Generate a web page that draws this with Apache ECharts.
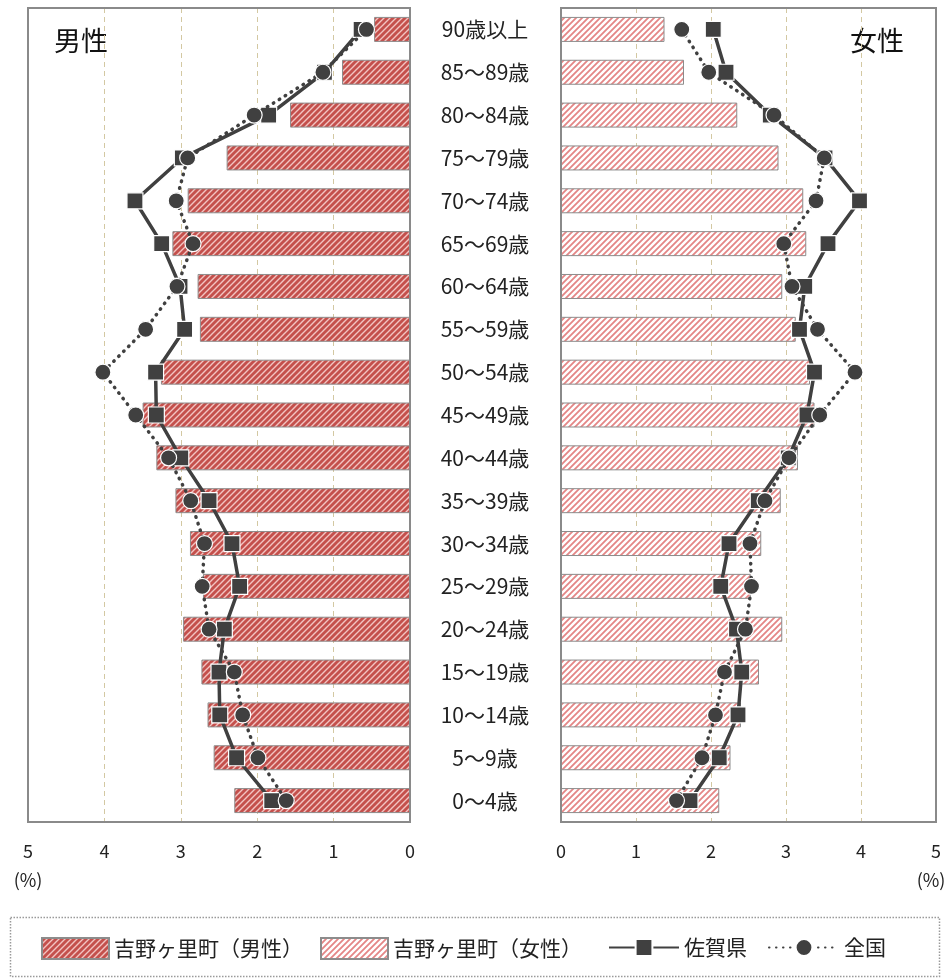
<!DOCTYPE html>
<html>
<head>
<meta charset="utf-8">
<script src="https://cdn.jsdelivr.net/npm/echarts@6/dist/echarts.min.js"></script>
<style>
  html, body { margin: 0; padding: 0; background: #fff; }
  #chart { width: 952px; height: 979px; }
</style>
</head>
<body>
<div id="chart"></div>
<script>
// Age groups, top to bottom
const ageGroups = ['90歳以上', '85～89歳', '80～84歳', '75～79歳', '70～74歳', '65～69歳', '60～64歳',
  '55～59歳', '50～54歳', '45～49歳', '40～44歳', '35～39歳', '30～34歳', '25～29歳', '20～24歳',
  '15～19歳', '10～14歳', '5～9歳', '0～4歳'];

// Share of population (%) by age group
const townMale   = [0.47, 0.89, 1.57, 2.40, 2.91, 3.11, 2.78, 2.75, 3.26, 3.50, 3.32, 3.07, 2.88, 2.71, 2.97, 2.73, 2.65, 2.57, 2.30];
const townFemale = [1.38, 1.64, 2.35, 2.90, 3.23, 3.27, 2.95, 3.13, 3.32, 3.38, 3.16, 2.93, 2.67, 2.53, 2.95, 2.64, 2.40, 2.26, 2.11];
const sagaMale   = [0.64, 1.12, 1.85, 2.98, 3.60, 3.25, 3.01, 2.95, 3.33, 3.32, 3.00, 2.63, 2.33, 2.23, 2.43, 2.50, 2.49, 2.27, 1.81];
const sagaFemale = [2.03, 2.20, 2.79, 3.52, 3.98, 3.56, 3.25, 3.18, 3.38, 3.28, 3.03, 2.63, 2.24, 2.13, 2.34, 2.41, 2.36, 2.11, 1.72];
const natMale    = [0.57, 1.14, 2.04, 2.91, 3.06, 2.84, 3.05, 3.46, 4.02, 3.59, 3.16, 2.87, 2.69, 2.72, 2.63, 2.30, 2.19, 1.99, 1.62];
const natFemale  = [1.61, 1.97, 2.84, 3.51, 3.40, 2.97, 3.08, 3.42, 3.92, 3.45, 3.04, 2.72, 2.52, 2.54, 2.46, 2.18, 2.06, 1.88, 1.54];

const seriesNames = ['吉野ヶ里町（男性）', '吉野ヶ里町（女性）', '佐賀県', '全国'];
const axisTicks = [0, 1, 2, 3, 4, 5];

const FONT = '"Noto Sans CJK JP", "Noto Sans", sans-serif';

// Panel boxes (pixels)
const LEFT_PANEL = { x: 28, y: 8, w: 382, h: 814 };
const RIGHT_PANEL = { x: 561, y: 8, w: 375, h: 814 };

// Diagonal hatch tile used as a repeating fill
function hatch(bg, fg, width, period) {
  const c = document.createElement('canvas');
  c.width = period; c.height = period;
  const g = c.getContext('2d');
  g.fillStyle = bg;
  g.fillRect(0, 0, period, period);
  g.strokeStyle = fg;
  g.lineWidth = width;
  g.beginPath();
  g.moveTo(0, period); g.lineTo(period, 0);
  g.moveTo(-period, period); g.lineTo(period, -period);
  g.moveTo(0, 2 * period); g.lineTo(2 * period, 0);
  g.stroke();
  return { image: c, repeat: 'repeat' };
}

const maleFill = hatch('#c4504c', '#f2c4c2', 1.4, 6);
const femaleFill = hatch('#ffffff', '#e48686', 1.8, 6);

const chart = echarts.init(document.getElementById('chart'), null, { renderer: 'canvas' });

const splitLine = { show: true, lineStyle: { color: '#d3c8a2', type: [5, 4], width: 1 } };
const xLabel = { fontSize: 18, color: '#222', margin: 20, fontFamily: FONT };

function lineSeries(name, data, axis, dotted) {
  return {
    name: name,
    type: 'line',
    xAxisIndex: axis,
    yAxisIndex: axis,
    data: data,
    symbol: dotted ? 'circle' : 'rect',
    symbolSize: 16,
    z: dotted ? 4 : 3,
    lineStyle: dotted
      ? { color: '#404040', width: 3.5, type: [0.5, 6.5], cap: 'round' }
      : { color: '#404040', width: 3.5 },
    itemStyle: { color: '#404040', borderColor: '#ffffff', borderWidth: 1.2 },
    emphasis: { disabled: true }
  };
}

function legendAt(left, name, w, icon) {
  const l = {
    left: left,
    top: 937,
    padding: 0,
    itemWidth: w,
    itemHeight: 21,
    itemGap: 0,
    data: [name],
    textStyle: { fontSize: 21, color: '#222', fontFamily: FONT },
    selectedMode: false
  };
  if (icon) l.icon = icon;
  return l;
}

function panelBorder(p) {
  return { type: 'rect', z: 10, silent: true,
    shape: { x: p.x, y: p.y, width: p.w, height: p.h },
    style: { fill: 'none', stroke: '#8a8a8a', lineWidth: 2 } };
}

chart.setOption({
  animation: false,
  backgroundColor: '#fff',
  textStyle: { fontFamily: FONT },
  grid: [
    { left: LEFT_PANEL.x, top: LEFT_PANEL.y, width: LEFT_PANEL.w, height: LEFT_PANEL.h },
    { left: RIGHT_PANEL.x, top: RIGHT_PANEL.y, width: RIGHT_PANEL.w, height: RIGHT_PANEL.h }
  ],
  xAxis: [
    { gridIndex: 0, type: 'value', min: axisTicks[0], max: axisTicks[axisTicks.length - 1], interval: 1, inverse: true,
      axisLine: { show: false }, axisTick: { show: false }, splitLine: splitLine, axisLabel: xLabel },
    { gridIndex: 1, type: 'value', min: axisTicks[0], max: axisTicks[axisTicks.length - 1], interval: 1,
      axisLine: { show: false }, axisTick: { show: false }, splitLine: splitLine, axisLabel: xLabel }
  ],
  yAxis: [
    { gridIndex: 0, type: 'category', data: ageGroups, inverse: true, position: 'right',
      axisLine: { show: false }, axisTick: { show: false },
      axisLabel: { align: 'center', margin: 75, fontSize: 21, color: '#222', fontFamily: FONT } },
    { gridIndex: 1, type: 'category', data: ageGroups, inverse: true,
      axisLine: { show: false }, axisTick: { show: false }, axisLabel: { show: false } }
  ],
  legend: [
    legendAt(41, seriesNames[0], 67, 'rect'),
    legendAt(320, seriesNames[1], 67, 'rect'),
    legendAt(608, seriesNames[2], 70),
    legendAt(768, seriesNames[3], 70)
  ],
  graphic: [
    panelBorder(LEFT_PANEL),
    panelBorder(RIGHT_PANEL),
    { type: 'rect', shape: { x: 10.5, y: 917.5, width: 929, height: 59 }, silent: true,
      style: { fill: 'none', stroke: '#9a9a9a', lineWidth: 1.5, lineDash: [1.5, 1.5] } },
    { type: 'text', left: 54, top: 27, silent: true,
      style: { text: '男性', fontSize: 27, fill: '#111', fontFamily: FONT } },
    { type: 'text', left: 850, top: 27, silent: true,
      style: { text: '女性', fontSize: 27, fill: '#111', fontFamily: FONT } },
    { type: 'text', x: 28, y: 880, silent: true,
      style: { text: '(%)', fontSize: 18, fill: '#222', fontFamily: FONT, align: 'center', verticalAlign: 'middle' } },
    { type: 'text', x: 931, y: 880, silent: true,
      style: { text: '(%)', fontSize: 18, fill: '#222', fontFamily: FONT, align: 'center', verticalAlign: 'middle' } }
  ],
  series: [
    { name: seriesNames[0], type: 'bar', xAxisIndex: 0, yAxisIndex: 0, data: townMale, barWidth: 25, z: 2,
      itemStyle: { color: maleFill, borderColor: '#8c8c8c', borderWidth: 1 }, emphasis: { disabled: true } },
    { name: seriesNames[1], type: 'bar', xAxisIndex: 1, yAxisIndex: 1, data: townFemale, barWidth: 25, z: 2,
      itemStyle: { color: femaleFill, borderColor: '#8c8c8c', borderWidth: 1 }, emphasis: { disabled: true } },
    lineSeries(seriesNames[2], sagaMale, 0, false),
    lineSeries(seriesNames[3], natMale, 0, true),
    lineSeries(seriesNames[2], sagaFemale, 1, false),
    lineSeries(seriesNames[3], natFemale, 1, true)
  ]
});
</script>
</body>
</html>
